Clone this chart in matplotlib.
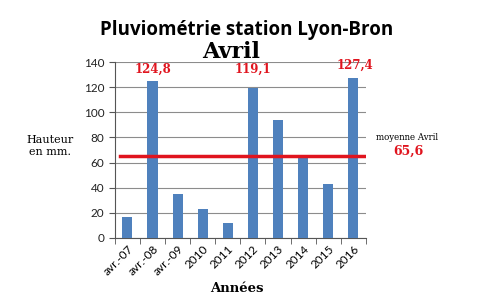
import numpy as np
import matplotlib
matplotlib.use("Agg")
import matplotlib.pyplot as plt
from matplotlib.ticker import FixedLocator

years = ["avr.-07", "avr.-08", "avr.-09", "2010", "2011", "2012", "2013", "2014", "2015", "2016"]
rain = [16.5, 124.8, 34.8, 22.9, 12.0, 119.1, 93.8, 64.3, 42.8, 127.4]
mean_avril = 65.6
# labelled bars: index -> (text, label height in data units)
labelled = {1: ("124,8", 129), 5: ("119,1", 129), 9: ("127,4", 132.5)}

BLUE, RED, GRID = "#4f81bd", "#e0141e", "#8c8c8c"
SERIF = "DejaVu Serif"

fig = plt.figure(figsize=(4.93, 3.0), dpi=100)
ax = fig.add_axes([0.233, 0.207, 0.509, 0.586])

x = np.arange(len(years))
ax.bar(x, rain, width=0.4, color=BLUE, zorder=3)
ax.plot([-0.3, len(years) - 0.45], [mean_avril, mean_avril], color=RED, lw=2.5, zorder=4)

for i, (txt, yl) in labelled.items():
    dx = 0.05 if i == 9 else 0.0
    ax.text(i + dx, yl, txt, color=RED, ha="center", va="bottom",
            family=SERIF, fontsize=8.5, fontweight="bold", zorder=5)

ax.set_xlim(-0.5, len(years) - 0.5)
ax.set_ylim(0, 140)
ax.set_yticks(range(0, 141, 20))
ax.yaxis.grid(True, color=GRID, lw=0.8, zorder=0)
ax.set_xticks(x)
ax.set_xticklabels(years, rotation=45, ha="right", rotation_mode="anchor", fontsize=8.5, family="Lato")
ax.tick_params(axis="x", length=0, pad=4)
ax.xaxis.set_minor_locator(FixedLocator(np.arange(-0.5, len(years), 1)))
ax.tick_params(axis="x", which="minor", length=4, color="#555555", direction="out")
ax.tick_params(axis="y", labelsize=8.5, length=4, color="#555555", labelcolor="#222222")
for lab in ax.get_yticklabels():
    lab.set_family("Lato")
for s in ("top", "right"):
    ax.spines[s].set_visible(False)
ax.spines["left"].set_color("#555555")
ax.spines["bottom"].set_color("#555555")

fig.text(0.5, 0.9, "Pluviométrie station Lyon-Bron", ha="center", va="center",
         family="Open Sans", fontweight="bold", fontsize=13.5)
fig.text(0.469, 0.828, "Avril", ha="center", va="center",
         family=SERIF, fontweight="bold", fontsize=16)
fig.text(0.102, 0.513, "Hauteur\nen mm.", ha="center", va="center",
         family=SERIF, fontsize=8, linespacing=1.3)
fig.text(0.48, 0.037, "Années", ha="center", va="center",
         family=SERIF, fontweight="bold", fontsize=9.5)
fig.text(0.826, 0.543, "moyenne Avril", ha="center", va="center",
         family=SERIF, fontsize=6.2)
fig.text(0.828, 0.497, "65,6", ha="center", va="center", color=RED,
         family=SERIF, fontweight="bold", fontsize=9)

fig.savefig("out.png", dpi=100)
